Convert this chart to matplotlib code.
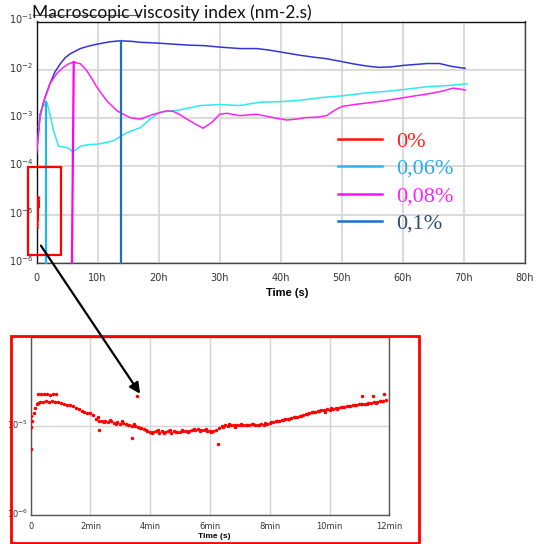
import numpy as np
import matplotlib
matplotlib.use("Agg")
import matplotlib.pyplot as plt
from matplotlib.patches import Rectangle, ConnectionPatch
from matplotlib.lines import Line2D
from matplotlib.ticker import FixedLocator, NullLocator
from matplotlib.transforms import ScaledTranslation

# ---------------- data (log10 values) ----------------
blue_t = [0.0, 0.6, 1.4, 2.2, 3.0, 3.9, 4.7, 5.5, 7.2, 8.5, 9.9, 12.0, 13.7, 15.5, 17.0,
          20.2, 22.5, 25.1, 27.5, 30.0, 33.3, 36.0, 38.0, 39.9, 43.2, 45.5, 47.5, 50.0, 52.0,
          54.0, 56.0, 58.0, 60.0, 62.0, 64.0, 66.0, 68.0, 70.2]
blue_e = [-3.70, -2.92, -2.57, -2.29, -2.05, -1.875, -1.75, -1.67, -1.56, -1.51, -1.47, -1.42,
          -1.40, -1.41, -1.43, -1.45, -1.47, -1.49, -1.50, -1.53, -1.56, -1.56, -1.59, -1.63,
          -1.70, -1.74, -1.77, -1.83, -1.88, -1.92, -1.95, -1.94, -1.91, -1.89, -1.87, -1.87,
          -1.93, -1.97]

cyan_t = [0.3, 0.9, 1.7, 2.2, 2.8, 3.6, 5.0, 6.0, 7.2, 8.5, 9.9, 11.2, 12.6, 14.8, 17.0,
          18.6, 20.2, 23.5, 26.8, 30.0, 33.3, 36.6, 39.9, 43.2, 47.0, 50.0, 54.6, 57.0, 60.0,
          64.0, 67.0, 70.5]
cyan_e = [-3.20, -2.78, -2.67, -2.92, -3.26, -3.58, -3.61, -3.70, -3.58, -3.55, -3.54, -3.51,
          -3.47, -3.30, -3.20, -3.02, -2.88, -2.83, -2.74, -2.72, -2.74, -2.67, -2.66, -2.63,
          -2.57, -2.54, -2.47, -2.45, -2.41, -2.35, -2.33, -2.29]

mag_t = [0.0, 0.6, 1.4, 2.2, 3.3, 4.4, 5.2, 6.1, 7.2, 8.2, 9.0, 9.9, 10.7, 11.5, 13.2, 15.3,
         17.0, 19.2, 21.3, 22.4, 23.5, 24.6, 26.0, 27.3, 28.7, 30.0, 31.2, 33.3, 36.0, 38.8,
         41.0, 42.6, 44.0, 46.0, 47.5, 48.8, 50.0, 52.0, 54.6, 57.0, 60.0, 62.0, 64.5, 66.5,
         68.2, 69.5, 70.2]
mag_e = [-3.75, -2.95, -2.57, -2.29, -2.08, -1.95, -1.88, -1.84, -1.875, -2.01, -2.17, -2.36,
         -2.50, -2.64, -2.85, -2.99, -3.02, -2.92, -2.85, -2.86, -2.93, -3.02, -3.12, -3.21,
         -3.09, -2.92, -2.90, -2.95, -2.92, -2.99, -3.04, -3.02, -2.99, -2.98, -2.95, -2.84,
         -2.76, -2.72, -2.68, -2.64, -2.58, -2.54, -2.49, -2.44, -2.38, -2.40, -2.42]

# red series (0 %), time in minutes
red_t_min = [0.0, 0.0, 0.0, 0.05, 0.1, 0.15, 0.2, 0.25, 0.3, 0.4, 0.5, 0.6, 0.7, 0.8, 0.9,
             1.0, 1.1, 1.2, 1.3, 1.4, 1.5, 1.6, 1.7, 1.8, 1.9, 2.0, 2.1, 2.2, 2.3, 2.4, 2.5,
             2.6, 2.7, 2.8, 2.9, 3.0, 3.1, 3.2, 3.3, 3.4, 3.5, 3.6, 3.7, 3.8, 3.9, 4.0, 4.1,
             4.2, 4.3, 4.4, 4.5, 4.6, 4.7, 4.8, 4.9, 5.0, 5.1, 5.2, 5.3, 5.4, 5.5, 5.6, 5.7,
             5.8, 5.9, 6.0, 6.1, 6.2, 6.3, 6.4, 6.5, 6.6, 6.7, 6.8, 6.9, 7.0, 7.1, 7.2, 7.3,
             7.4, 7.5, 7.6, 7.7, 7.8, 7.9, 8.0, 8.1, 8.2, 8.3, 8.4, 8.5, 8.6, 8.7, 8.8, 8.9,
             9.0, 9.1, 9.2, 9.3, 9.4, 9.5, 9.6, 9.7, 9.8, 9.9, 10.0, 10.1, 10.2, 10.3, 10.4,
             10.5, 10.6, 10.7, 10.8, 10.9, 11.0, 11.1, 11.2, 11.3, 11.4, 11.5, 11.6, 11.7,
             11.8, 11.9,
             0.25, 0.35, 0.45, 0.55, 0.65, 0.75, 0.85,
             2.25, 2.45, 2.65, 2.85, 3.05, 3.25, 3.45, 3.65, 3.85, 4.05, 4.25, 4.45, 4.65,
             4.85, 5.05, 5.25, 5.45, 5.65, 5.85, 6.05, 6.45, 6.65, 6.85, 7.05, 7.25, 7.45,
             7.65, 7.85, 8.05, 8.25, 8.45, 8.65, 8.85, 9.05, 9.25, 9.45, 9.65, 9.85, 10.05,
             10.25, 10.45, 10.65, 10.85, 11.05, 11.25, 11.55, 11.75,
             3.55, 3.4, 6.26, 2.3, 11.1, 11.45, 11.83]
red_e = [-5.26, -5.01, -4.89, -4.95, -4.86, -4.80, -4.76, -4.74, -4.73, -4.735, -4.725, -4.73,
         -4.72, -4.735, -4.73, -4.74, -4.75, -4.765, -4.77, -4.78, -4.80, -4.81, -4.83, -4.84,
         -4.855, -4.86, -4.88, -4.92, -4.94, -4.95, -4.94, -4.96, -4.95, -4.97, -4.96, -4.975,
         -4.97, -4.98, -4.99, -5.00, -5.00, -5.01, -5.02, -5.04, -5.06, -5.07, -5.07, -5.06,
         -5.08, -5.06, -5.07, -5.06, -5.075, -5.06, -5.07, -5.065, -5.06, -5.055, -5.06,
         -5.05, -5.045, -5.04, -5.045, -5.05, -5.055, -5.06, -5.06, -5.05, -5.02, -5.00,
         -4.99, -5.00, -4.99, -4.995, -4.99, -4.985, -4.99, -4.985, -4.99, -4.98, -4.99,
         -4.99, -4.98, -4.985, -4.975, -4.97, -4.96, -4.95, -4.94, -4.93, -4.925, -4.92,
         -4.91, -4.905, -4.90, -4.89, -4.88, -4.87, -4.86, -4.85, -4.84, -4.83, -4.825,
         -4.82, -4.815, -4.82, -4.81, -4.80, -4.795, -4.79, -4.785, -4.78, -4.775, -4.77,
         -4.765, -4.76, -4.755, -4.75, -4.745, -4.74, -4.735, -4.73, -4.725, -4.72, -4.715,
         -4.645, -4.645, -4.64, -4.645, -4.65, -4.645, -4.645,
         -4.90, -4.96, -4.93, -4.98, -4.95, -4.99, -4.98, -5.02, -5.05, -5.08, -5.05,
         -5.08, -5.05, -5.07, -5.05, -5.07, -5.04, -5.06, -5.04, -5.07, -5.01, -4.98,
         -5.01, -4.98, -4.99, -4.98, -4.99, -4.97, -4.96, -4.95, -4.93, -4.92,
         -4.90, -4.89, -4.87, -4.85, -4.83, -4.84, -4.80, -4.81, -4.79, -4.78, -4.77,
         -4.76, -4.75, -4.74, -4.72,
         -4.66, -5.14, -5.20, -5.05, -4.66, -4.66, -4.64]

# vertical marker lines (hours, exponent of top)
vline_t_top = [1.6, 6.1, 13.8]
vline_t_bot = [1.6, 5.8, 13.8]
vline_top_e = [-2.67, -1.84, -1.40]
vline_colors = ["#22b4ee", "#ff00ff", "#1e6ec8"]

legend_labels = ["0%", "0,06%", "0,08%", "0,1%"]
legend_line_colors = ["#ff1010", "#2ab8f0", "#ff10ff", "#1e6ec8"]
legend_text_colors = ["#ff2020", "#20b0e8", "#ff20ff", "#2c4a78"]

main_xticks = [0, 10, 20, 30, 40, 50, 60, 70, 80]
main_xlabels = ["0", "10h", "20h", "30h", "40h", "50h", "60h", "70h", "80h"]
inset_xticks = [0, 2, 4, 6, 8, 10, 12]
inset_xlabels = ["0", "2min", "4min", "6min", "8min", "10min", "12min"]

# ---------------- figure ----------------
W, H = 547, 544
fig = plt.figure(figsize=(W / 100, H / 100), dpi=100)

def fx(px):
    return px / W

def fy(py):
    return 1 - py / H

ax = fig.add_axes([fx(36.5), fy(263), fx(525) - fx(36.5), fy(21.5) - fy(263)])
ax.set_yscale("log")
ax.set_xlim(0, 80)
ax.set_ylim(1e-6, 1e-1)

grid_c = "#d4d4d4"
ax.set_xticks(main_xticks)
ax.set_xticklabels(main_xlabels)
ax.yaxis.set_major_locator(FixedLocator([1e-6, 1e-5, 1e-4, 1e-3, 1e-2, 1e-1]))
ax.yaxis.set_minor_locator(NullLocator())
ax.set_yticklabels([r"$10^{-6}$", r"$10^{-5}$", r"$10^{-4}$", r"$10^{-3}$", r"$10^{-2}$", r"$10^{-1}$"])
ax.grid(True, color=grid_c, lw=1.2)
ax.set_axisbelow(True)
ax.tick_params(axis="both", length=0, labelsize=7, colors="#333333")
ax.tick_params(axis="x", pad=7)
ax.tick_params(axis="y", pad=2.5)
shift_up = ScaledTranslation(0, 3 / 100, fig.dpi_scale_trans)
for lab in ax.get_yticklabels():
    lab.set_transform(lab.get_transform() + shift_up)
for s in ["left", "top"]:
    ax.spines[s].set_color("#111111")
for s in ["right", "bottom"]:
    ax.spines[s].set_color("#444444")
for s in ax.spines.values():
    s.set_linewidth(1.0)

ax.plot(blue_t, 10 ** np.array(blue_e), color="#3535d5", lw=1.1, zorder=3)
ax.plot(cyan_t, 10 ** np.array(cyan_e), color="#30e8ee", lw=1.1, zorder=3)
ax.plot(mag_t, 10 ** np.array(mag_e), color="#ff22ee", lw=1.1, zorder=3)
ax.plot(np.array(red_t_min) / 60.0, 10 ** np.array(red_e), ls="none", marker="o",
        ms=1.0, color="#ff0000", zorder=3)

for t0, t1, e, c in zip(vline_t_top, vline_t_bot, vline_top_e, vline_colors):
    ax.plot([t0, t1], [10 ** e, 1e-6], color=c, lw=1.6, zorder=4, clip_on=False)

ax.add_patch(Rectangle((-1.47, 10 ** -5.83), 5.46, 10 ** -4.01 - 10 ** -5.83,
                       fill=False, ec="#ff0000", lw=1.6, clip_on=False, zorder=5))

handles = [Line2D([0], [0], color=c, lw=1.8) for c in legend_line_colors]
leg = ax.legend(handles, legend_labels, loc="upper left",
                bbox_to_anchor=((338 - 36.5) / 488.5, (263 - 131) / 241.5),
                frameon=False, prop={"family": "Liberation Serif", "size": 16},
                handlelength=2.0, handletextpad=0.6, labelspacing=0.31,
                borderpad=0, borderaxespad=0)
for txt, c in zip(leg.get_texts(), legend_text_colors):
    txt.set_color(c)

fig.text(fx(287), fy(293), "Time (s)", ha="center", va="center",
         fontsize=8, fontweight="bold", family="Liberation Sans")

fig.text(fx(32), fy(13), "Macroscopic viscosity index (nm-2.s)", ha="left", va="center",
         fontsize=12.5, family="Lato", color="#111111", zorder=10)
fig.add_artist(Line2D([fx(33), fx(140)], [fy(15), fy(15)], color="#666666", lw=0.8))

# ---------------- inset ----------------
axin = fig.add_axes([fx(30.7), fy(515), fx(389.3) - fx(30.7), fy(336.7) - fy(515)])
axin.set_yscale("log")
axin.set_xlim(0, 12)
axin.set_ylim(1e-6, 1e-4)
axin.set_xticks(inset_xticks)
axin.set_xticklabels(inset_xlabels)
axin.yaxis.set_major_locator(FixedLocator([1e-6, 1e-5, 1e-4]))
axin.yaxis.set_minor_locator(NullLocator())
axin.set_yticklabels([r"$10^{-6}$", r"$10^{-5}$", ""])
axin.grid(True, color=grid_c, lw=1.0)
axin.set_axisbelow(True)
axin.tick_params(axis="both", length=0, labelsize=6, colors="#333333")
axin.tick_params(axis="x", pad=5)
axin.tick_params(axis="y", pad=2)
for lab in axin.get_yticklabels():
    lab.set_transform(lab.get_transform() + ScaledTranslation(0, 2 / 100, fig.dpi_scale_trans))
for s in axin.spines.values():
    s.set_color("#555555")
    s.set_linewidth(1.0)
axin.plot(red_t_min, 10 ** np.array(red_e), ls="none", marker="o", ms=1.5,
          color="#ff0000", zorder=3)

fig.text(fx(214), fy(537), "Time (s)", ha="center", va="center",
         fontsize=6, fontweight="bold", family="Liberation Sans")

fig.add_artist(Rectangle((fx(10.5), fy(543)), fx(419) - fx(10.5), fy(335.5) - fy(543),
                         transform=fig.transFigure, fill=False, ec="#ff0000", lw=2.0,
                         zorder=10))

con = ConnectionPatch(xyA=(0.72, 10 ** -5.64), coordsA=ax.transData,
                      xyB=(3.66, 10 ** -4.64), coordsB=axin.transData,
                      arrowstyle="-|>", mutation_scale=16, lw=1.6, color="black",
                      zorder=12)
fig.add_artist(con)

fig.savefig("out.png", dpi=100)
